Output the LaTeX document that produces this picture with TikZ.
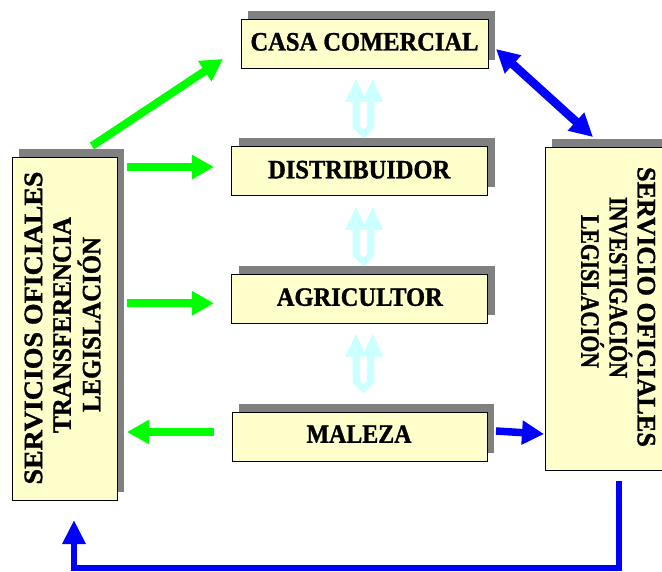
\documentclass[tikz,border=0pt]{standalone}
\usepackage{fontspec}
\setmainfont{Liberation Serif}
\newfontfamily\lblfont{Liberation Serif}[BoldFeatures={FakeBold=1.3}]
\usepackage{graphicx}
\usetikzlibrary{arrows.meta,calc,shadows}
\definecolor{boxfill}{HTML}{FFFFCC}
\definecolor{shadowgray}{HTML}{808080}
\definecolor{lgreen}{HTML}{00FF00}
\definecolor{pblue}{HTML}{0000FF}
\definecolor{lcyan}{HTML}{CCFFFF}
\newcommand\fitw[2]{\resizebox{#1pt}{\height}{#2}}
\newcommand\cyanU[1]{%
  \begin{scope}[shift={(0,#1)}]
    \fill[lcyan,even odd rule]
      (356,207) -- (345,230) -- (352.6,230) -- (352.6,255.5) -- (363.5,266.5) -- (374.4,255.5)
      -- (374.4,230) -- (383.3,230) -- (372.8,207) -- (364.4,224.6) -- cycle
      (360,230) -- (367.2,230) -- (367.2,254) -- (363.6,258) -- (360,254) -- cycle;
  \end{scope}}
\begin{document}
\begin{tikzpicture}[x=1pt,y=-1pt,
  box/.style={draw=black,line width=0.8pt,fill=boxfill,inner sep=0pt,outer sep=0pt,
    drop shadow={shadow xshift=7pt,shadow yshift=8pt,fill=shadowgray,opacity=1}},
  lbl/.style={inner sep=0pt,font=\lblfont\fontsize{26.5}{28}\selectfont\bfseries,text height=17.6pt,text depth=0pt},
  garrow/.style={draw=lgreen,line width=8pt,-{Triangle[length=22pt,width=23pt]}},
  barrow/.style={draw=pblue,line width=7.5pt,-{Triangle[length=22pt,width=23pt]}},
  bdouble/.style={draw=pblue,line width=8.5pt,{Triangle[length=23pt,width=23pt]}-{Triangle[length=23pt,width=23pt]}},
  bloop/.style={draw=pblue,line width=6.5pt,-{Triangle[length=24pt,width=22pt]}}
]
\useasboundingbox (0,0) rectangle (662,572);
\clip (0,0) rectangle (662,572);
\fill[white] (0,0) rectangle (662,572);

% cyan double arrows
\cyanU{-128}
\cyanU{0}
\cyanU{127}

% boxes
\node[box,minimum width=247pt,minimum height=49pt] (casa) at (364.5,43.5) {};
\node[box,minimum width=256pt,minimum height=49pt] (dist) at (359.7,171) {};
\node[box,minimum width=256pt,minimum height=49pt] (agri) at (359.7,298.8) {};
\node[box,minimum width=255pt,minimum height=49pt] (mal) at (359.5,436.5) {};
\node[box,minimum width=105pt,minimum height=343pt] (left) at (64.5,328.5) {};
\node[box,minimum width=146pt,minimum height=323pt] (right) at (618,308.5) {};

% labels
\node[lbl] (casaT) at (364.5,41.7) {\fitw{228}{CASA COMERCIAL}};
\node[lbl] (distT) at (359.2,169.5) {\fitw{182}{DISTRIBUIDOR}};
\node[lbl] (agriT) at (359.8,297) {\fitw{166}{AGRICULTOR}};
\node[lbl] (malT) at (359,434) {\fitw{105}{MALEZA}};

\node[lbl,rotate=90] (leftA) at (33.3,328) {\fitw{313}{SERVICIOS OFICIALES}};
\node[lbl,rotate=90] (leftB) at (62,325) {\fitw{216}{TRANSFERENCIA}};
\node[lbl,rotate=90] (leftC) at (91.5,324.5) {\fitw{175}{LEGISLACIÓN}};

\node[lbl,rotate=-90] (rightA) at (646.5,307) {\fitw{280}{SERVICIO OFICIALES}};
\node[lbl,rotate=-90] (rightB) at (618.3,287.5) {\fitw{181}{INVESTIGACIÓN}};
\node[lbl,rotate=-90] (rightC) at (590,291.5) {\fitw{153}{LEGISLACIÓN}};

% green arrows
\draw[garrow] ($(left.north)+(27.5,-11)$) -- ($(casa.south west)+(-18,-9)$);
\draw[garrow] ($(left.north east)+(10,10)$) -- ($(dist.west)+(-17.7,-4)$);
\draw[garrow] ($(left.east)+(10,-25.5)$) -- ($(agri.west)+(-17.7,4.5)$);
\draw[garrow] ($(mal.west)+(-18,-4.5)$) -- ($(left.east)+(10,103.5)$);

% blue arrows
\draw[barrow] ($(mal.east)+(9,-5.5)$) -- ($(right.west)+(-1,125.5)$);
\draw[bdouble] ($(casa.east)+(8,5.5)$) -- ($(right.north west)+(48,-10)$);
\draw[bloop] ($(right.south)+(1,11)$) -- ++(0,87) -| ($(left.south)+(9.5,20)$);
\end{tikzpicture}
\end{document}
